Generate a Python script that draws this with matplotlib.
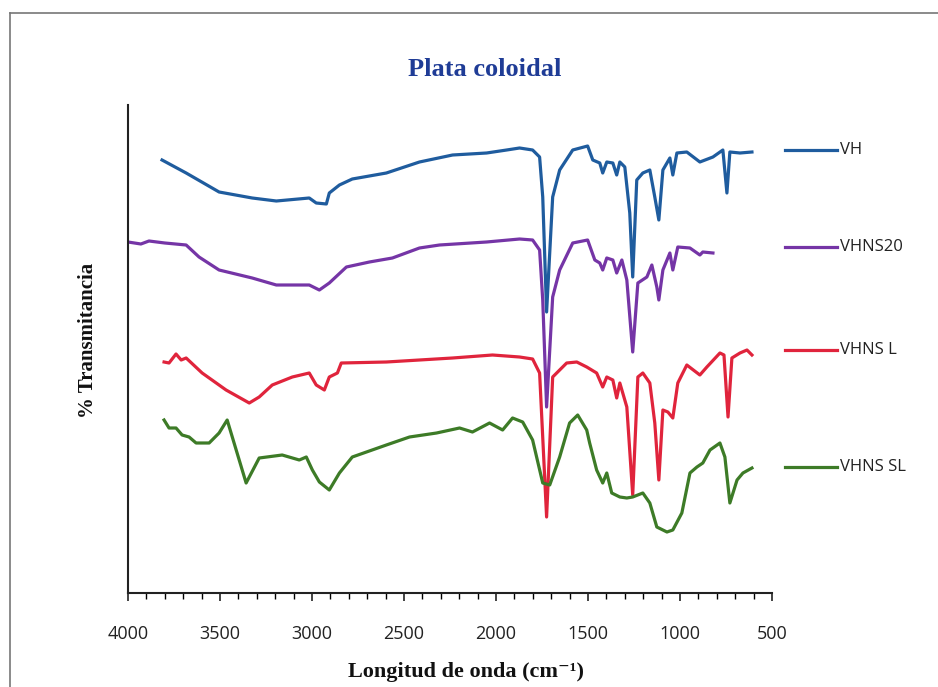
import matplotlib
matplotlib.use("Agg")
import matplotlib.pyplot as plt
from matplotlib.lines import Line2D
from matplotlib.ticker import MultipleLocator

# FTIR spectra (wavenumber in cm-1, transmittance in arbitrary offset units)
vh_x = [3815, 3684, 3505, 3325, 3194, 3015, 2977, 2922, 2906, 2851, 2781, 2596, 2416, 2236,
        2051, 1942, 1872, 1801, 1763, 1746, 1725, 1692, 1654, 1583, 1502, 1474, 1436, 1420,
        1398, 1365, 1344, 1327, 1300, 1273, 1257, 1235, 1202, 1164, 1137, 1115, 1093, 1055,
        1039, 1017, 963, 892, 821, 767, 745, 729, 674, 609]
vh_y = [440, 427, 408, 402, 399, 402, 397, 396, 407, 415, 421, 427, 438, 445,
        447, 450, 452, 450, 443, 403, 288, 403, 430, 450, 454, 440, 437, 427,
        438, 437, 425, 438, 433, 387, 323, 420, 427, 430, 403, 380, 430, 442,
        425, 447, 448, 438, 443, 450, 407, 448, 447, 448]

vhns20_x = [4000, 3930, 3886, 3800, 3684, 3614, 3505, 3325, 3194, 3015, 2960, 2906, 2813, 2688,
            2563, 2416, 2307, 2051, 1872, 1801, 1763, 1746, 1725, 1692, 1654, 1583, 1502,
            1463, 1436, 1420, 1398, 1365, 1344, 1316, 1289, 1257, 1229, 1180, 1153, 1126,
            1115, 1093, 1055, 1039, 1012, 946, 892, 876, 821]
vhns20_y = [358, 356, 359, 357, 355, 343, 330, 322, 315, 315, 310, 317, 333, 338,
            342, 352, 355, 358, 361, 360, 350, 300, 193, 303, 330, 357, 360,
            340, 337, 330, 342, 340, 327, 340, 320, 248, 317, 323, 335, 313,
            300, 330, 347, 330, 353, 352, 345, 348, 347]

vhnsl_x = [3804, 3777, 3739, 3711, 3684, 3597, 3467, 3341, 3287, 3216, 3107, 3015, 2977, 2933,
           2906, 2862, 2841, 2596, 2236, 2019, 1872, 1801, 1763, 1725, 1692, 1616, 1561,
           1507, 1453, 1420, 1398, 1365, 1344, 1327, 1289, 1257, 1229, 1202, 1164, 1137,
           1115, 1093, 1066, 1039, 1012, 963, 892, 854, 783, 761, 739, 718, 674, 636, 609]
vhnsl_y = [238, 237, 246, 240, 242, 227, 210, 197, 203, 215, 223, 227, 215, 210,
           223, 227, 237, 238, 242, 245, 243, 241, 227, 83, 223, 237, 238,
           233, 227, 213, 223, 220, 202, 217, 193, 105, 223, 227, 217, 177,
           120, 190, 188, 182, 217, 235, 225, 233, 247, 245, 183, 242, 247, 250, 245]

vhnssl_x = [3804, 3777, 3739, 3706, 3668, 3630, 3559, 3505, 3461, 3412, 3358, 3287, 3162, 3069,
            3031, 2998, 2960, 2906, 2851, 2781, 2596, 2470, 2323, 2198, 2128, 2035, 1964,
            1910, 1855, 1801, 1746, 1708, 1654, 1600, 1556, 1507, 1491, 1453, 1420, 1398,
            1371, 1327, 1289, 1257, 1202, 1164, 1126, 1071, 1039, 990, 946, 908, 876, 837,
            783, 756, 729, 690, 658, 609]
vhnssl_y = [180, 172, 172, 165, 163, 157, 157, 167, 180, 150, 117, 142, 145, 140,
            143, 130, 118, 110, 127, 143, 155, 163, 167, 172, 168, 177, 170,
            182, 178, 160, 117, 115, 143, 177, 185, 170, 157, 130, 117, 127,
            107, 103, 102, 103, 107, 97, 73, 68, 70, 87, 127, 133, 137, 150,
            157, 143, 97, 120, 127, 132]

labels = ["VH", "VHNS20", "VHNS L", "VHNS SL"]
colors = ["#1F5C9E", "#7535A6", "#E0243C", "#3D7B27"]
legend_y = [150, 247, 350, 467]   # pixel rows of the legend entries

series = [(vh_x, vh_y), (vhns20_x, vhns20_y), (vhnsl_x, vhnsl_y), (vhnssl_x, vhnssl_y)]

W, H = 938, 687
fig = plt.figure(figsize=(W / 100, H / 100), dpi=100)
ax = fig.add_axes([128 / W, 1 - 593 / H, (772 - 128) / W, (593 - 105) / H])

for (x, y), c in zip(series, colors):
    ax.plot(x, y, color=c, lw=2.3, solid_joinstyle="round")

ax.set_xlim(4000, 500)
ax.set_ylim(7, 495)
ax.xaxis.set_major_locator(MultipleLocator(500))
ax.xaxis.set_minor_locator(MultipleLocator(100))
ax.tick_params(axis="x", which="major", direction="out", length=6, width=1.2, pad=17,
               labelsize=13, colors="#222222")
ax.tick_params(axis="x", which="minor", direction="out", length=4, width=1.0)
ax.set_yticks([])
for lbl in ax.get_xticklabels():
    lbl.set_family("Open Sans")
for s in ["top", "right"]:
    ax.spines[s].set_visible(False)
for s in ["left", "bottom"]:
    ax.spines[s].set_linewidth(1.5)
    ax.spines[s].set_color("#222222")

serif = ["Liberation Serif", "DejaVu Serif"]
fig.text(485 / W, 1 - 70 / H, "Plata coloidal", ha="center", va="center",
         fontsize=19, fontweight="bold", family=serif, color="#1F3C96")
fig.text(88 / W, 1 - 340 / H, "% Transmitancia", ha="center", va="center", rotation=90,
         fontsize=15, fontweight="bold", family=serif, color="#111111")
fig.text(466 / W, 1 - 672 / H, "Longitud de onda (cm\u207b\u00b9)", ha="center", va="center",
         fontsize=16, fontweight="bold", family=serif, color="#111111")

# legend drawn beside each curve
for lab, c, py in zip(labels, colors, legend_y):
    yy = 1 - py / H
    fig.add_artist(Line2D([785 / W, 837 / W], [yy, yy], color=c, lw=2.3))
    fig.text(840 / W, yy, lab, ha="left", va="center", fontsize=12, family="Open Sans",
             color="#222222")

# thin frame of the original page (top and left only)
fig.add_artist(Line2D([10 / W, 1], [1 - 13 / H, 1 - 13 / H], color="#777777", lw=1.2))
fig.add_artist(Line2D([10 / W, 10 / W], [0, 1 - 13 / H], color="#777777", lw=1.2))

fig.savefig("out.png", dpi=100)
